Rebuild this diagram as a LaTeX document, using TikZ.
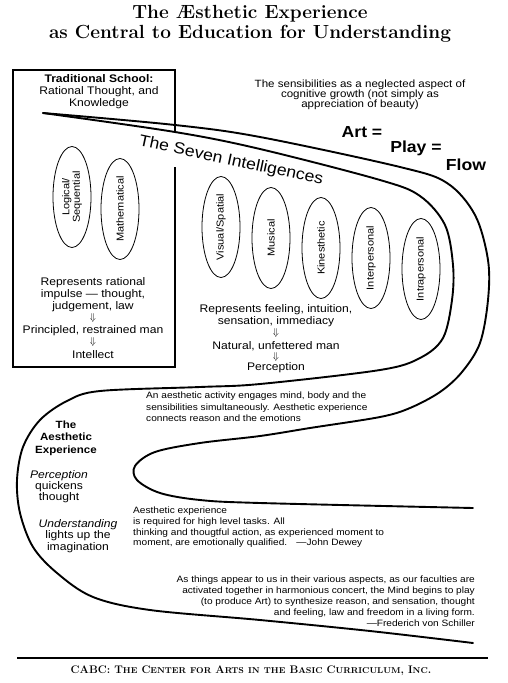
\documentclass[tikz,border=0pt]{standalone}
\usepackage{fontspec}
\setsansfont{Liberation Sans}[FakeStretch=1.1]
\usetikzlibrary{shapes.geometric}
\newcommand\smc[1]{{\fontsize{8.5}{8.5}\selectfont #1}}
\tikzset{
  intel/.style={ellipse,draw,line width=0.8pt,rotate=90,minimum width=101pt,minimum height=38pt,inner sep=0pt,align=center,font=\sffamily\fontsize{10}{10.5}\selectfont},
  band/.style={line width=1.9pt,line cap=round,line join=round},
  body/.style={font=\sffamily\fontsize{11}{12}\selectfont,align=center,inner sep=0pt},
  quote/.style={font=\sffamily\fontsize{9.2}{10.7}\selectfont,inner sep=0pt},
  eqn/.style={font=\sffamily\bfseries\fontsize{16}{16}\selectfont,inner sep=0pt},
  dn/.style={inner sep=0pt,font=\fontsize{10}{10}\selectfont}
}
\begin{document}
\begin{tikzpicture}[x=1pt,y=-1pt]
\useasboundingbox (0,0) rectangle (507,683);
\node[font=\bfseries\fontsize{19}{20.5}\selectfont,align=center,inner sep=0pt] (title) at (250,24) {The \AE sthetic Experience\\as Central to Education for Understanding};
\draw[line width=1.2pt] (175,132) -- (175,70) -- (13,70) -- (13,367) -- (175,367) -- (175,167);
\node[body] (school) at (99,92) {\textbf{Traditional School:}\\Rational Thought, and\\Knowledge};
\node[body,font=\sffamily\fontsize{10.5}{10}\selectfont] (sens) at (360,95) {The sensibilities as a neglected aspect of\\cognitive growth (not simply as\\appreciation of beauty)};
\node[eqn] (art) at (362,132) {Art =}; \node[eqn] (play) at (416,148) {Play =}; \node[eqn] (flow) at (466,165) {Flow};
\draw[band] plot[smooth,tension=0.55] coordinates {(43,113) (175,125) (260,137) (400,167) (447,183) (475,215) (488,260) (488,300) (480,343) (462,372) (440,392) (410,408) (380,417) (310,428) (260,436) (200,443) (155,452) (135,466) (137,480) (160,493) (200,500) (260,503) (473,508)};
\draw[band] plot[smooth,tension=0.55] coordinates {(43,113) (175,132) (260,149) (380,180) (420,196) (445,225) (453,265) (452,300) (443,338) (420,358) (380,370) (260,384) (200,387) (100,391) (67,401) (40,420) (23,447) (17,480) (20,513) (33,547) (57,573) (93,597) (150,610) (260,620) (370,631) (473,643)};
\node[font=\sffamily\fontsize{16}{16}\selectfont,rotate=-12,inner sep=0pt] (seven) at (231,161) {The Seven Intelligences};
\node[intel] (logic) at (72,197) {Logical/\\Sequential};
\node[intel] (math) at (120,209) {Mathematical};
\node[intel] (visual) at (221,227) {Visual/Spatial};
\node[intel] (music) at (271,238) {Musical};
\node[intel] (kin) at (321,248) {Kinesthetic};
\node[intel] (inter) at (371,258) {Interpersonal};
\node[intel] (intra) at (421,269) {Intrapersonal};
\node[body] (rational) at (93,295) {Represents rational\\impulse --- thought,\\judgement, law};
\node[dn] (d1) at (93,318) {$\Downarrow$};
\node[body] (restrained) at (93,331) {Principled, restrained man};
\node[dn] (d2) at (93,342) {$\Downarrow$};
\node[body] (intellect) at (93,355) {Intellect};
\node[body] (feeling) at (276,316) {Represents feeling, intuition,\\sensation, immediacy};
\node[dn] (d3) at (276,333) {$\Downarrow$};
\node[body] (natural) at (276,346) {Natural, unfettered man};
\node[dn] (d4) at (276,357) {$\Downarrow$};
\node[body] (percep) at (276,368) {Perception};
\node[quote,font=\sffamily\fontsize{9.2}{11.3}\selectfont,anchor=north west,align=left] (activity) at (146,392) {An aesthetic activity engages mind, body and the\\sensibilities simultaneously. Aesthetic experience\\connects reason and the emotions};
\node[body,font=\sffamily\bfseries\fontsize{10.5}{12.5}\selectfont] (aesth) at (66,438) {The\\Aesthetic\\Experience};
\node[body,font=\sffamily\fontsize{11}{11}\selectfont] (quick) at (59,487) {\textit{Perception}\\quickens\\thought};
\node[body,font=\sffamily\fontsize{11}{11.5}\selectfont] (lights) at (78,536) {\textit{Understanding}\\lights up the\\imagination};
\node[quote,anchor=north west,align=left] (dewey) at (133,507) {Aesthetic experience\\is required for high level tasks. All\\thinking and thougtful action, as experienced moment to\\moment, are emotionally qualified.\quad ---John Dewey};
\node[quote,font=\sffamily\fontsize{9.2}{11}\selectfont,anchor=north east,align=right] (schiller) at (475,576) {As things appear to us in their various aspects, as our faculties are\\activated together in harmonious concert, the Mind begins to play\\(to produce Art) to synthesize reason, and sensation, thought\\and feeling, law and freedom in a living form.\\---Frederich von Schiller};
\draw[line width=1.5pt] (17,658) -- (488,658);
\node[font=\bfseries\fontsize{11}{11}\selectfont,inner sep=0pt] (cabc) at (251,671) {CABC: T\smc{HE} C\smc{ENTER} \smc{FOR} A\smc{RTS} \smc{IN} \smc{THE} B\smc{ASIC} C\smc{URRICULUM}, I\smc{NC}.};
\end{tikzpicture}
\end{document}
